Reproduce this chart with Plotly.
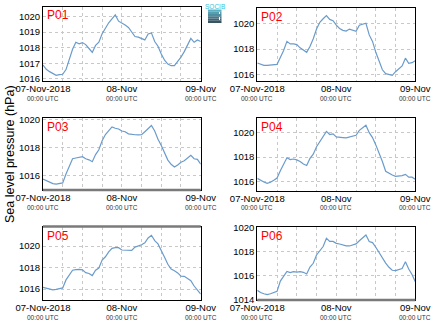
import plotly.graph_objects as go
import pandas as pd

W, H = 434, 327

# ---- data (hourly, 07-Nov-2018 00:00 UTC to 09-Nov-2018 00:00 UTC) ----
times = pd.date_range("2018-11-07 00:00", "2018-11-09 00:00", freq="1h")

p01 = [1016.89, 1016.62, 1016.47, 1016.33, 1016.23, 1016.28, 1016.30, 1016.60, 1017.30, 1017.90,
       1018.35, 1018.25, 1018.33, 1018.20, 1017.95, 1017.70, 1018.15, 1018.35, 1018.90, 1019.30,
       1019.60, 1019.85, 1020.10, 1019.70, 1019.60, 1019.45, 1019.30, 1019.00, 1018.72, 1018.68,
       1018.60, 1018.50, 1018.88, 1018.95, 1018.40, 1018.10, 1017.60, 1017.20, 1016.95, 1016.85,
       1016.85, 1017.10, 1017.40, 1017.75, 1018.15, 1018.60, 1018.35, 1018.50, 1018.40]
p02 = [1016.92, 1016.80, 1016.74, 1016.74, 1016.78, 1016.82, 1016.82, 1017.35, 1017.90, 1018.60,
       1018.40, 1018.40, 1018.35, 1018.10, 1017.92, 1017.75, 1018.20, 1018.80, 1019.56, 1020.08,
       1020.35, 1020.60, 1020.30, 1020.20, 1019.85, 1019.60, 1019.45, 1019.40, 1019.55, 1019.45,
       1019.38, 1019.85, 1019.95, 1020.00, 1019.10, 1018.60, 1017.75, 1017.00, 1016.40, 1016.10,
       1016.02, 1015.97, 1016.25, 1016.50, 1016.70, 1017.30, 1016.90, 1016.95, 1017.10]
p03 = [1015.73, 1015.60, 1015.47, 1015.40, 1015.37, 1015.42, 1015.45, 1016.10, 1016.65, 1017.20,
       1017.25, 1017.30, 1017.35, 1017.20, 1017.12, 1016.98, 1017.50, 1017.85, 1018.50, 1018.95,
       1019.25, 1019.50, 1019.40, 1019.35, 1019.20, 1019.15, 1019.00, 1018.95, 1018.93, 1018.92,
       1018.93, 1019.15, 1019.35, 1019.60, 1019.20, 1018.60, 1018.15, 1017.60, 1017.10, 1016.80,
       1016.60, 1016.75, 1016.95, 1017.05, 1017.25, 1017.45, 1017.20, 1017.15, 1016.80]
p04 = [1016.27, 1016.10, 1015.98, 1015.86, 1015.95, 1016.12, 1016.30, 1016.90, 1017.45, 1017.95,
       1017.80, 1017.85, 1017.78, 1017.65, 1017.44, 1017.32, 1017.90, 1018.24, 1018.85, 1019.25,
       1019.65, 1020.10, 1019.85, 1019.90, 1019.65, 1019.60, 1019.60, 1019.57, 1019.63, 1019.73,
       1019.79, 1020.19, 1020.40, 1020.60, 1020.00, 1019.60, 1019.00, 1018.35, 1017.65, 1016.85,
       1016.68, 1016.55, 1016.43, 1016.45, 1016.50, 1016.60, 1016.37, 1016.37, 1016.19]
p05 = [1016.16, 1016.08, 1016.00, 1015.92, 1015.97, 1016.03, 1016.10, 1016.85, 1017.30, 1017.75,
       1017.80, 1017.83, 1017.78, 1017.52, 1017.45, 1017.25, 1017.75, 1017.95, 1018.70, 1019.00,
       1019.45, 1019.78, 1019.85, 1019.85, 1019.63, 1019.63, 1019.63, 1019.60, 1019.90, 1020.00,
       1020.12, 1020.30, 1020.75, 1021.00, 1020.50, 1020.20, 1019.50, 1018.95, 1018.30, 1017.85,
       1017.70, 1017.50, 1017.20, 1017.18, 1016.97, 1016.78, 1016.28, 1015.90, 1015.53]
p06 = [1014.78, 1014.60, 1014.50, 1014.43, 1014.50, 1014.60, 1014.70, 1015.55, 1015.98, 1016.35,
       1016.25, 1016.33, 1016.30, 1016.33, 1016.28, 1016.14, 1016.72, 1017.03, 1017.72, 1018.08,
       1018.42, 1019.10, 1018.85, 1018.85, 1018.69, 1018.63, 1018.55, 1018.48, 1018.47, 1018.55,
       1018.64, 1018.90, 1019.15, 1019.38, 1018.83, 1018.75, 1018.36, 1017.90, 1017.45, 1017.05,
       1016.70, 1016.45, 1016.42, 1016.50, 1016.60, 1017.15, 1016.55, 1016.10, 1015.50]

names = ["P01", "P02", "P03", "P04", "P05", "P06"]
series = [p01, p02, p03, p04, p05, p06]
yranges = [[1015.87, 1020.64], [1015.53, 1021.16], [1014.94, 1020.12],
           [1015.24, 1021.17], [1014.98, 1021.77], [1013.98, 1020.02]]
ytickvals = [[1016, 1017, 1018, 1019, 1020], [1016, 1018, 1020], [1016, 1018, 1020],
             [1016, 1018, 1020], [1016, 1018, 1020], [1014, 1016, 1018, 1020]]
xtick_times = pd.date_range("2018-11-07 00:00", "2018-11-09 00:00", freq="6h")
xtick_text = ["07-Nov-2018", "", "", "", "08-Nov", "", "", "", "09-Nov"]
utc_times = ["2018-11-07 00:00", "2018-11-08 00:00", "2018-11-09 00:00"]
ytitle = "Sea level pressure (hPa)"

# ---- layout geometry (pixels) ----
boxes = [(43, 200.7, 6.5, 81), (257.3, 415.3, 8.3, 81),
         (43, 200.7, 118.3, 190), (257.3, 415.3, 118.3, 191),
         (43, 200.7, 227, 300), (257.3, 415.3, 227.3, 300)]
row_utc_y = [98, 207.5, 317.5]

def px(x):
    return x / W

def py(y):
    return 1 - y / H

fig = go.Figure()
LINE = "rgb(106,155,203)"
FONT = "Liberation Sans, Arial, sans-serif"

for i, (nm, s, yr, ytv, b) in enumerate(zip(names, series, yranges, ytickvals, boxes)):
    k = "" if i == 0 else str(i + 1)
    fig.add_trace(go.Scatter(x=times, y=s, mode="lines", line=dict(color=LINE, width=1.2),
                             xaxis="x" + k, yaxis="y" + k, showlegend=False, hoverinfo="skip"))
    x0, x1, y0, y1 = b
    fig.layout["xaxis" + k] = dict(
        domain=[px(x0), px(x1)], anchor="y" + k, automargin=False,
        range=[times[0], times[-1]], tickmode="array",
        tickvals=list(xtick_times), ticktext=xtick_text, tickangle=0,
        showgrid=True, gridcolor="#c8c8c8", griddash="dot", gridwidth=1,
        showline=True, mirror=True, linecolor="black", linewidth=1,
        ticks="", ticklabelstandoff=-1,
        tickfont=dict(size=9.5, color="black", family=FONT), zeroline=False)
    fig.layout["yaxis" + k] = dict(
        domain=[py(y1), py(y0)], anchor="x" + k, range=yr, automargin=False,
        tickmode="array", tickvals=ytv, ticktext=[str(v) for v in ytv],
        showgrid=True, gridcolor="#c8c8c8", griddash="dot", gridwidth=1,
        showline=True, mirror=True, linecolor="black", linewidth=1,
        ticks="", tickfont=dict(size=9.5, color="black", family=FONT), zeroline=False)
    fig.add_annotation(text=nm, xref="paper", yref="paper", x=px(x0 + 1.5), y=py(y0 + 8.5),
                       xanchor="left", yanchor="middle", showarrow=False,
                       font=dict(size=12, color="red", family=FONT))
    for t in utc_times:
        fig.add_annotation(text="00:00 UTC", xref="x" + k, yref="paper", x=t, y=py(row_utc_y[i // 2]),
                           xanchor="center", yanchor="middle", showarrow=False,
                           font=dict(size=6.5, color="#333333", family=FONT))

# gray thick edge lines seen in the reference
for (xa, xb, yy) in [(43, 200.7, 190), (43, 200.7, 226.5), (257.3, 415.3, 300)]:
    fig.add_shape(type="line", xref="paper", yref="paper", x0=px(xa), x1=px(xb),
                  y0=py(yy), y1=py(yy), line=dict(color="#7a7a7a", width=2.5))

# y title
fig.add_annotation(text=ytitle, xref="paper", yref="paper", x=px(10), y=py(154),
                   textangle=-90, showarrow=False, xanchor="center", yanchor="middle",
                   font=dict(size=12.5, color="black", family=FONT))

# logo (approximation)
logo_cols = ["#5fb0c2", "#56a0b2", "#4d8ea0", "#46798a", "#3f6473", "#3a5360"]
lx0, lx1, ly0, ly1 = 208, 221.5, 9.5, 23
n = len(logo_cols)
for j, c in enumerate(logo_cols):
    ya = ly0 + (ly1 - ly0) * j / n
    yb = ly0 + (ly1 - ly0) * (j + 1) / n
    fig.add_shape(type="rect", xref="paper", yref="paper", x0=px(lx0), x1=px(lx1),
                  y0=py(yb), y1=py(ya), line=dict(width=0), fillcolor=c)
fig.add_shape(type="line", xref="paper", yref="paper", x0=px(219.5), x1=px(219.5),
              y0=py(20), y1=py(12), line=dict(color="white", width=1, dash="dot"))
fig.add_annotation(text="SOCIB", xref="paper", yref="paper", x=px(214.7), y=py(6),
                   showarrow=False, xanchor="center", yanchor="middle",
                   font=dict(size=6.5, color="#3cc0d8", family=FONT))

fig.update_layout(width=W, height=H, margin=dict(l=0, r=0, t=0, b=0, autoexpand=False),
                  paper_bgcolor="white", plot_bgcolor="white",
                  font=dict(family=FONT))
fig.write_html("out.html")
